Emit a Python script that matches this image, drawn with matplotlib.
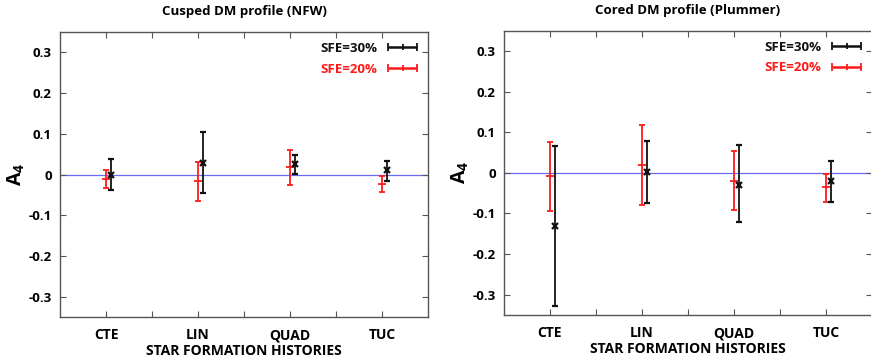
import matplotlib as mpl
mpl.use('agg')
import matplotlib.pyplot as plt
from matplotlib.legend_handler import HandlerErrorbar
import numpy as np

plt.rcParams['font.family'] = ['Open Sans', 'DejaVu Sans']
plt.rcParams['font.weight'] = 'bold'
plt.rcParams['axes.titleweight'] = 'bold'
plt.rcParams['axes.labelweight'] = 'bold'
plt.rcParams['mathtext.fontset'] = 'custom'
plt.rcParams['mathtext.bf'] = 'Open Sans:bold'
plt.rcParams['mathtext.default'] = 'bf'

sfh = ['CTE', 'LIN', 'QUAD', 'TUC']

# Cusped DM profile (NFW)
nfw_30 = [0.000, 0.029, 0.025, 0.010]
nfw_30_lo = [0.038, 0.075, 0.023, 0.026]
nfw_30_hi = [0.038, 0.075, 0.022, 0.023]
nfw_20 = [-0.010, -0.017, 0.018, -0.023]
nfw_20_lo = [0.023, 0.047, 0.043, 0.021]
nfw_20_hi = [0.020, 0.048, 0.043, 0.020]

# Cored DM profile (Plummer)
plu_30 = [-0.131, 0.002, -0.029, -0.021]
plu_30_lo = [0.196, 0.077, 0.093, 0.052]
plu_30_hi = [0.198, 0.076, 0.097, 0.049]
plu_20 = [-0.008, 0.019, -0.019, -0.036]
plu_20_lo = [0.085, 0.098, 0.072, 0.035]
plu_20_hi = [0.085, 0.099, 0.072, 0.034]

x = np.arange(1, len(sfh) + 1)
shift = 0.05

fig = plt.figure(figsize=(8.71, 3.62), dpi=100)
ax1 = fig.add_axes([0.0689, 0.1243, 0.4225, 0.7873])
ax2 = fig.add_axes([0.5786, 0.1298, 0.4225, 0.7855])

panels = [
    (ax1, 'Cusped DM profile (NFW)', nfw_30, nfw_30_lo, nfw_30_hi, nfw_20, nfw_20_lo, nfw_20_hi),
    (ax2, 'Cored DM profile (Plummer)', plu_30, plu_30_lo, plu_30_hi, plu_20, plu_20_lo, plu_20_hi),
]

for ax, title, v30, lo30, hi30, v20, lo20, hi20 in panels:
    ax.axhline(0, color='#6a6af0', lw=0.9, zorder=1)
    ax.errorbar(x, v20, yerr=[lo20, hi20], fmt='_', color='#ff1a1a', ms=6, mew=1.3,
                elinewidth=1.3, capsize=2.5, capthick=1.3, zorder=3)
    ax.errorbar(x + shift, v30, yerr=[lo30, hi30], fmt='x', color='#111111', ms=4, mew=1.6,
                elinewidth=1.3, capsize=2.5, capthick=1.3, zorder=4)

    # legend proxies drawn as horizontal error bars like the original
    h30 = ax.errorbar([np.nan], [np.nan], xerr=[[1.0]], fmt='|', color='#111111', ms=5,
                      mew=1.3, elinewidth=1.8, capsize=3, capthick=1.3)
    h20 = ax.errorbar([np.nan], [np.nan], xerr=[[1.0]], fmt='|', color='#ff1a1a', ms=5,
                      mew=1.3, elinewidth=1.8, capsize=3, capthick=1.3)
    ax.legend([h30, h20], ['SFE=30%', 'SFE=20%'], loc='upper right', frameon=False,
              markerfirst=False, labelcolor='linecolor', prop={'size': 9.5, 'weight': 'bold'},
              handlelength=2.3, handletextpad=0.8, labelspacing=0.6,
              borderaxespad=0.35, handler_map={type(h30): HandlerErrorbar(xerr_size=1.1)})

    ax.set_xlim(0.5, 4.5)
    ax.set_ylim(-0.35, 0.35)
    ax.set_xticks(x)
    ax.set_xticklabels(sfh, fontsize=10, fontweight='bold')
    ax.set_xticks([1.5, 2.5, 3.5], minor=True)
    ax.set_yticks([-0.3, -0.2, -0.1, 0, 0.1, 0.2, 0.3])
    ax.set_yticklabels(['-0.3', '-0.2', '-0.1', '0', '0.1', '0.2', '0.3'],
                       fontsize=9.5, fontweight='bold')
    ax.tick_params(which='both', direction='in', top=True, right=True, length=4,
                   width=0.8, color='#555555', pad=6)
    ax.tick_params(axis='x', pad=8)
    for s in ax.spines.values():
        s.set_color('#555555')
        s.set_linewidth(1.0)
    ax.set_xlabel('STAR FORMATION HISTORIES', fontsize=10, fontweight='bold', labelpad=1)
    ax.set_ylabel('A$_4$', fontsize=14, labelpad=1)
    ax.set_title(title, fontsize=9.5, fontweight='bold', pad=12)

plt.savefig('out.png', dpi=100)
